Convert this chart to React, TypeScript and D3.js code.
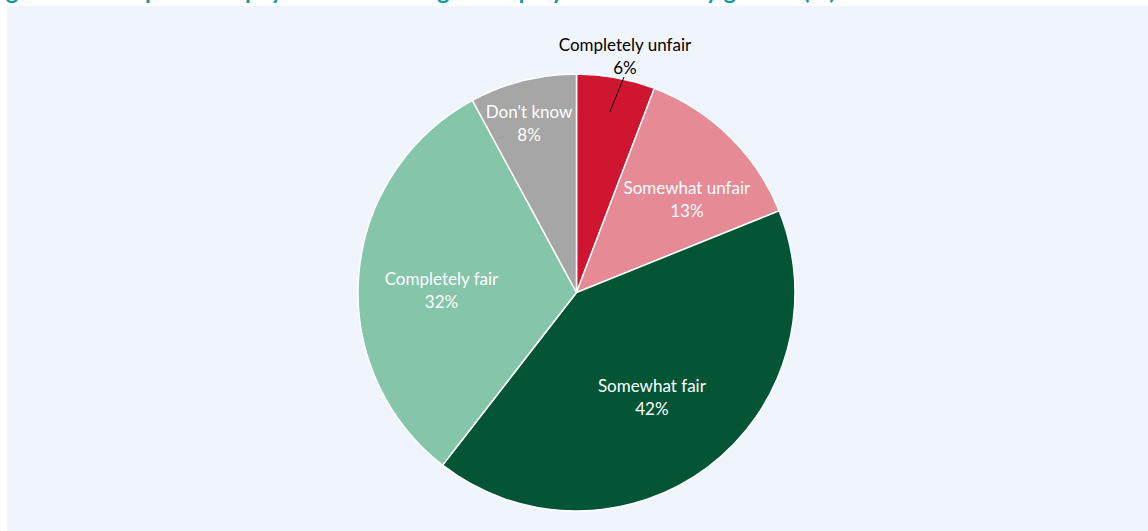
import React from "react";
import * as d3 from "d3";

const categories = ["Completely unfair", "Somewhat unfair", "Somewhat fair", "Completely fair", "Don't know"];
const values = [5.8, 13.1, 41.6, 31.6, 7.9];
const colors = ["#d01530", "#e68a96", "#045535", "#85c5aa", "#a6a6a6"];
const titleText = "Figure 6: Perceptions of pay fairness among all employees at work by gender (%)";

// label placement: fraction of radius plus small nudges (px), and text colour
const labelRadius = [1.1, 0.61, 0.58, 0.62, 0.81];
const labelNudgeX = [0, 17, -1, 0, -4];
const labelNudgeY = [0, 2, 3, 9, 2];
const labelColor = ["#000000", "#ffffff", "#ffffff", "#ffffff", "#ffffff"];

const W = 1148;
const H = 531;
const cx = 576.5;
const cy = 292.5;
const R = 218.5;
const FONT = "Lato, 'Open Sans', sans-serif";
const FS = 17;

export default function App() {
  const pie = d3.pie<number>().value((d) => d).sort(null);
  const arcs = pie(values);
  const arcGen = d3.arc<d3.PieArcDatum<number>>().innerRadius(0).outerRadius(R);

  const pos = (a: d3.PieArcDatum<number>, f: number) => {
    const ang = (a.startAngle + a.endAngle) / 2;
    return [Math.sin(ang) * R * f, -Math.cos(ang) * R * f];
  };

  return (
    <svg width={W} height={H} style={{ position: "absolute", left: 0, top: 0 }} fontFamily={FONT}>
      <rect x={0} y={0} width={W} height={H} fill="#ffffff" />
      <text x={-14} y={-1.5} fill="#1a9a9c" fontWeight="bold" fontSize={24}>
        {titleText}
      </text>
      <rect x={7} y={6} width={W - 7} height={H - 6} fill="#f0f5fc" />
      <g transform={`translate(${cx},${cy})`}>
        {arcs.map((a, i) => (
          <path key={i} d={arcGen(a) || ""} fill={colors[i]} stroke="#ffffff" strokeWidth={1.5} />
        ))}
        {arcs.map((a, i) => {
          let [x, y] = pos(a, labelRadius[i]);
          if (i === 0) {
            x = 625 - cx;
            y = 56 - cy;
          }
          x += labelNudgeX[i];
          y += labelNudgeY[i];
          return (
            <g key={"l" + i}>
              <text x={x} y={y - 11.5} textAnchor="middle" dominantBaseline="central" fontSize={FS} fill={labelColor[i]}>
                {categories[i]}
              </text>
              <text x={x} y={y + 11.5} textAnchor="middle" dominantBaseline="central" fontSize={FS} fill={labelColor[i]}>
                {Math.round(values[i])}%
              </text>
            </g>
          );
        })}
        {(() => {
          const [ex, ey] = pos(arcs[0], 0.84);
          return <line x1={624 - cx} y1={77 - cy} x2={ex} y2={ey} stroke="#000" strokeWidth={1} />;
        })()}
      </g>
    </svg>
  );
}
